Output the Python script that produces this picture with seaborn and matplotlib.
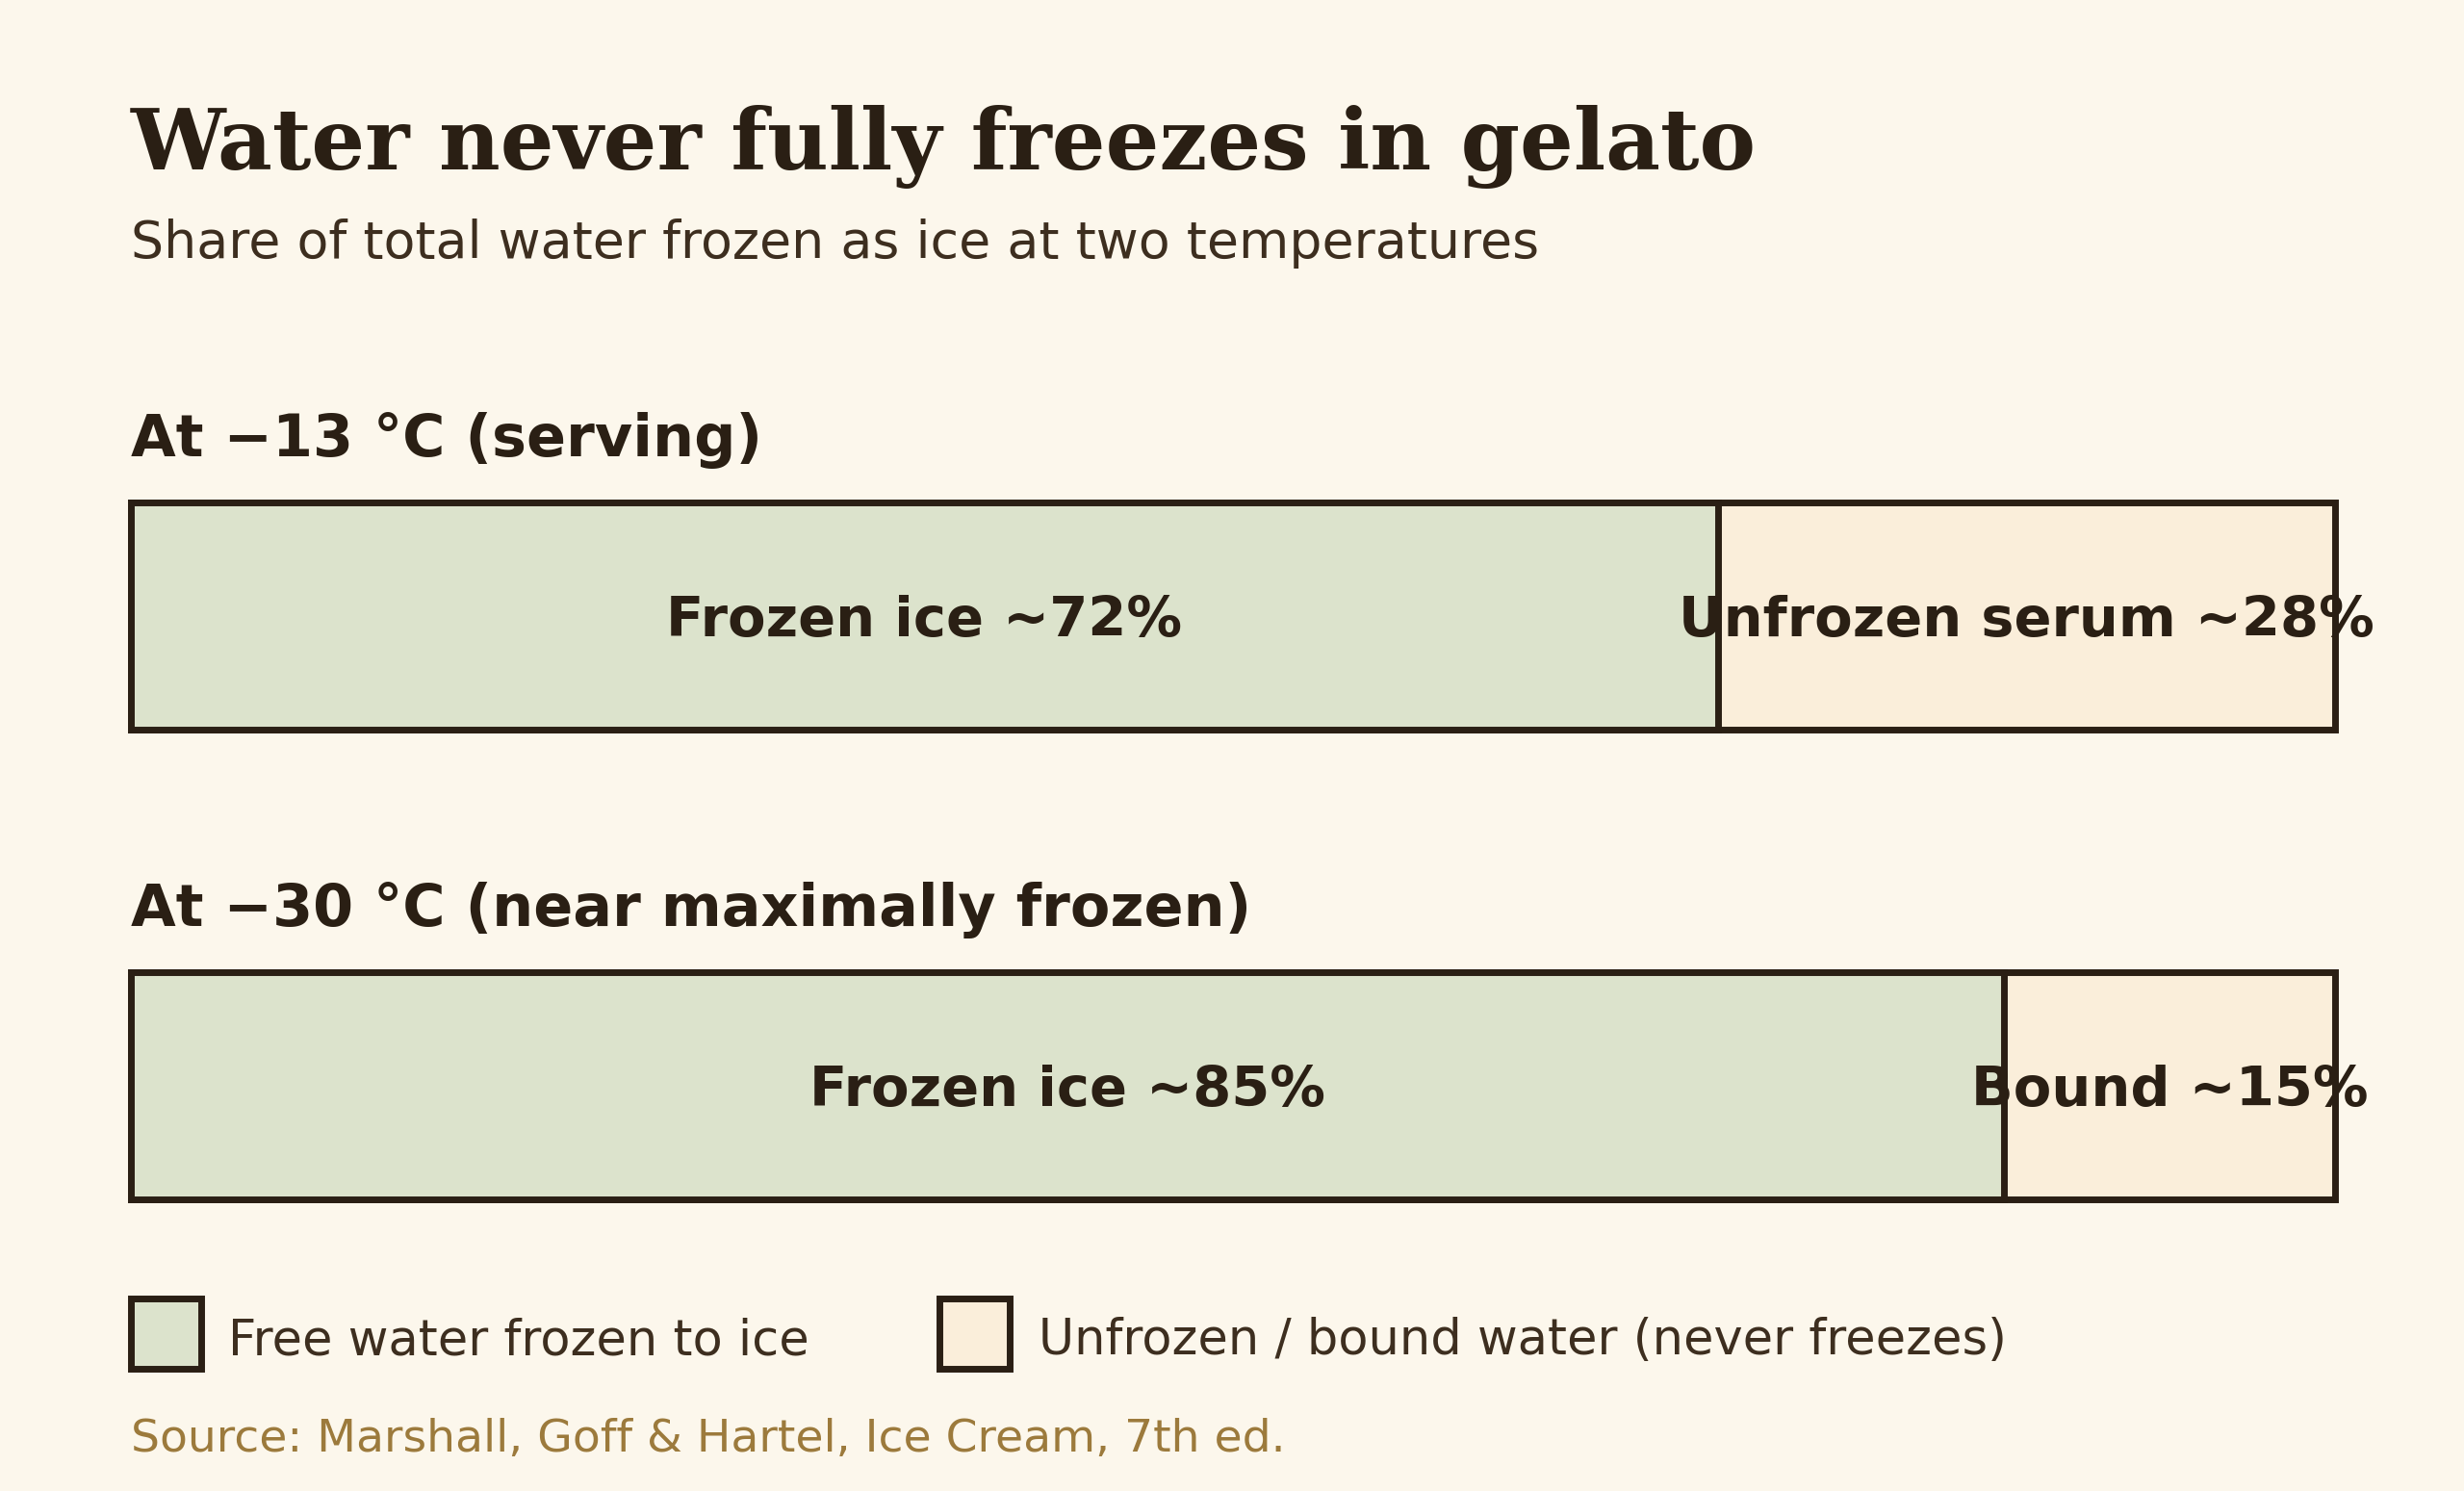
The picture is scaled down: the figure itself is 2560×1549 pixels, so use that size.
import seaborn as sns
import matplotlib.pyplot as plt
import pandas as pd
from matplotlib.patches import Rectangle

# data
scenarios = ["At −13 °C (serving)", "At −30 °C (near maximally frozen)"]
frozen = [72, 85]
unfrozen = [28, 15]
frozen_labels = ["Frozen ice ~72%", "Frozen ice ~85%"]
unfrozen_labels = ["Unfrozen serum ~28%", "Bound ~15%"]
legend_labels = ["Free water frozen to ice", "Unfrozen / bound water (never freezes)"]

# colours
bg = "#fcf7ec"
ink = "#2a1f14"
ink2 = "#3d2e1f"
green = "#dce3cc"
cream = "#faeeda"
gold = "#9c7a3c"

sns.set_style("white")
plt.rcParams["font.family"] = ["DejaVu Sans"]

df = pd.DataFrame({
    "scenario": scenarios,
    "frozen": frozen,
    "total": [f + u for f, u in zip(frozen, unfrozen)],
})

W, H = 2560, 1549
fig = plt.figure(figsize=(W / 100, H / 100), dpi=100, facecolor=bg)

# bar axes: category centres at y=640 and y=1128 px from the top
ax = fig.add_axes([135.5 / W, 0.0828, (2426 - 135.5) / W, 0.6931])
ax.set_facecolor(bg)

bar_w = 0.483
sns.barplot(data=df, x="total", y="scenario", orient="h", color=cream,
            saturation=1, edgecolor=ink, linewidth=5, width=bar_w,
            clip_on=False, ax=ax)
sns.barplot(data=df, x="frozen", y="scenario", orient="h", color=green,
            saturation=1, edgecolor=ink, linewidth=5, width=bar_w,
            clip_on=False, ax=ax)

ax.set_xlim(0, 100)
ax.set_ylim(1.6, -0.6)
ax.axis("off")

for i in range(len(scenarios)):
    ax.text(0, i - 0.34, scenarios[i], fontsize=43.5, fontweight="bold",
            color=ink, ha="left", va="baseline")
    ax.text(frozen[i] / 2, i + 0.043, frozen_labels[i], fontsize=41.4,
            fontweight="bold", color=ink, ha="center", va="baseline")
    ax.text(frozen[i] + unfrozen[i] / 2, i + 0.043, unfrozen_labels[i],
            fontsize=41.4, fontweight="bold", color=ink, ha="center",
            va="baseline")

# title + subtitle
fig.text(135.5 / W, 1 - 176 / H, "Water never fully freezes in gelato",
         family="DejaVu Serif", fontweight="bold", fontsize=63.2, color=ink,
         ha="left", va="baseline")
fig.text(135.5 / W, 1 - 268 / H, "Share of total water frozen as ice at two temperatures",
         fontsize=38.7, color=ink2, ha="left", va="baseline")

# legend
sq = 73
for x0, tx, col, lab in [(135.5, 236.7, green, legend_labels[0]),
                         (976, 1079, cream, legend_labels[1])]:
    fig.patches.append(Rectangle((x0 / W, 1 - 1422 / H), sq / W, sq / H,
                                 transform=fig.transFigure, facecolor=col,
                                 edgecolor=ink, linewidth=5))
    fig.text(tx / W, 1 - 1407 / H, lab, fontsize=36.7, color=ink2,
             ha="left", va="baseline")

fig.text(135.5 / W, 1 - 1508 / H, "Source: Marshall, Goff & Hartel, Ice Cream, 7th ed.",
         fontsize=34, color=gold, ha="left", va="baseline")

fig.savefig("out.png", dpi=100, facecolor=bg)
